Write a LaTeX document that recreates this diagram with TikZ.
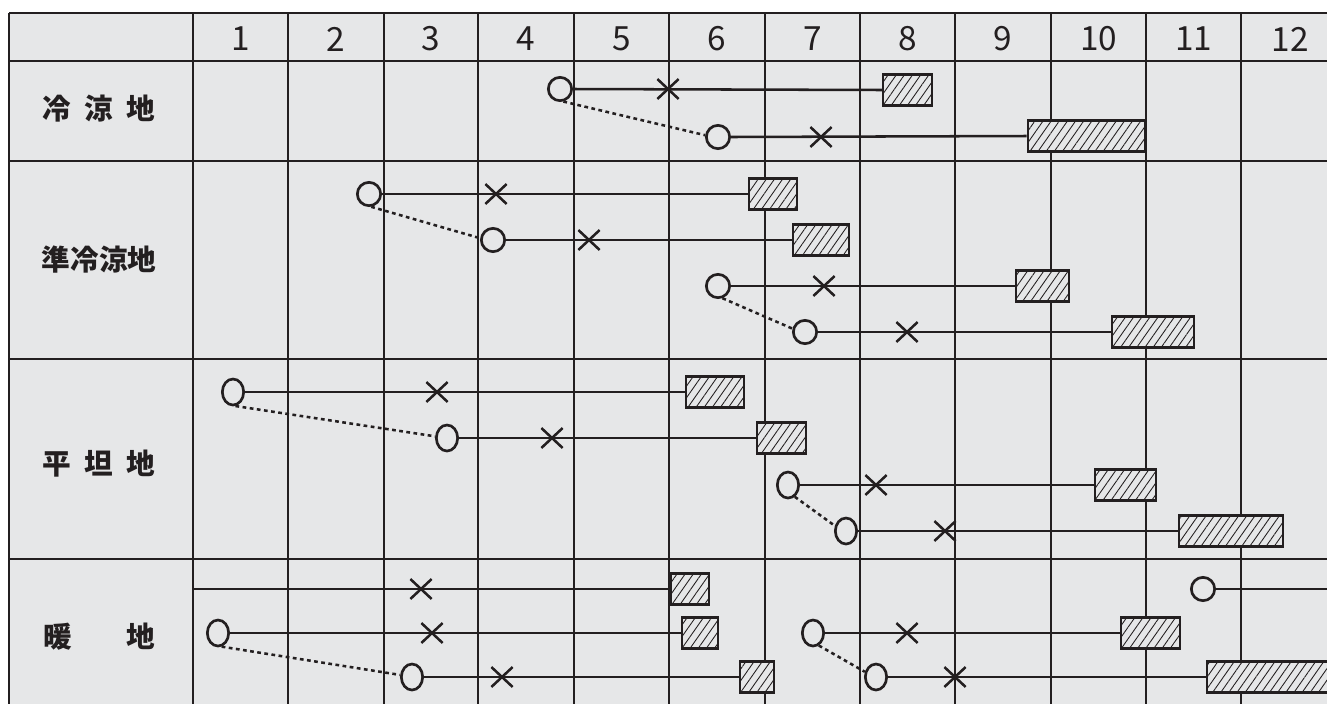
\documentclass[tikz,border=0pt]{standalone}
\usepackage{fontspec}
\newfontfamily\cjk{Noto Sans CJK JP}
\usetikzlibrary{shapes.geometric,shapes.misc,patterns.meta}
\definecolor{bg}{RGB}{230,231,232}
\definecolor{ink}{RGB}{35,31,32}
\begin{document}
\begin{tikzpicture}[x=0.75pt,y=-0.75pt,
  grid/.style={draw=ink,line width=2pt},
  row/.style={draw=ink,line width=1.9pt},
  dots/.style={draw=ink,line width=1.9pt,dash pattern=on 2.8pt off 2.6pt},
  rc/.style={circle,draw=ink,fill=bg,line width=2pt,minimum size=17.5pt,inner sep=0pt},
  ec/.style={ellipse,draw=ink,fill=bg,line width=2pt,minimum width=16pt,minimum height=19.5pt,inner sep=0pt},
  xm/.style={cross out,draw=ink,line width=1.9pt,minimum width=14pt,minimum height=13pt,inner sep=0pt},
  bx/.style={rectangle,draw=ink,line width=2pt,minimum height=23pt,inner sep=0pt,
    minimum width=#1*0.75pt,preaction={fill=bg},
    pattern={Lines[angle=55,distance=5pt,line width=0.65pt]},pattern color=ink},
  hd/.style={font=\cjk\fontsize{25pt}{28pt}\selectfont,text=ink,inner sep=0pt},
  lab/.style={font=\cjk\bfseries\fontsize{21.5pt}{24pt}\selectfont,text=ink,inner sep=0pt}
]
\useasboundingbox (0,0) rectangle (1327,704);
% background and grid
\fill[bg] (9,13) rectangle (1327,704);
\foreach \v in {9,193,288,384,478,574,669,765,860,955,1051,1146,1241}
  \draw[grid] (\v,13) -- (\v,704);
\foreach \h in {13,61,161,359,559}
  \draw[grid] (9,\h) -- (1327,\h);
% header
\node[hd] (m1) at (240.5,39) {1};
\node[hd] (m2) at (336,39) {2};
\node[hd] (m3) at (431,39) {3};
\node[hd] (m4) at (526,39) {4};
\node[hd] (m5) at (621.5,39) {5};
\node[hd] (m6) at (717,39) {6};
\node[hd] (m7) at (812.5,39) {7};
\node[hd] (m8) at (907.5,39) {8};
\node[hd] (m9) at (1003,39) {9};
\node[hd] (m10) at (1098.5,39) {10};
\node[hd] (m11) at (1193.5,39) {11};
\node[hd] (m12) at (1290,39) {12};
% row labels
\node[lab] (r1) at (98.5,109) {冷\hspace{10pt}涼\hspace{10pt}地};
\node[lab] (r2) at (99,260) {準冷涼地};
\node[lab] (r3) at (98.5,464) {平\hspace{10pt}坦\hspace{10pt}地};
\node[lab] (r4) at (99,637) {暖\hspace{41pt}地};

% ---- row 1
\node[rc] (c11) at (560,89) {};
\node[xm] (x11) at (668,89) {};
\node[bx=49] (b11) at (907.5,90) {};
\node[rc] (c12) at (718,137) {};
\node[xm] (x12) at (821,137) {};
\node[bx=117] (b12) at (1086.5,136) {};
\draw[row] (c11.east) -- (b11.west);
\draw[row] (c12.east) -- (b12.west);
\draw[dots] (c11.-75) -- (c12.172);

% ---- row 2
\node[rc] (c21) at (369,194) {};
\node[xm] (x21) at (496,194) {};
\node[bx=48] (b21) at (773,194) {};
\node[rc] (c22) at (493,240) {};
\node[xm] (x22) at (589,240) {};
\node[bx=56] (b22) at (821,240) {};
\node[rc] (c23) at (718,286) {};
\node[xm] (x23) at (824,286) {};
\node[bx=53] (b23) at (1042.5,286) {};
\node[rc] (c24) at (805,332) {};
\node[xm] (x24) at (907,332) {};
\node[bx=82] (b24) at (1153,332) {};
\draw[row] (c21.east) -- (b21.west);
\draw[row] (c22.east) -- (b22.west);
\draw[row] (c23.east) -- (b23.west);
\draw[row] (c24.east) -- (b24.west);
\draw[dots] (c21.-80) -- (c22.172);
\draw[dots] (c23.-70) -- (c24.165);

% ---- row 3
\node[ec] (c31) at (233,392) {};
\node[xm] (x31) at (437,392) {};
\node[bx=58] (b31) at (715,392) {};
\node[ec] (c32) at (447,438) {};
\node[xm] (x32) at (552,438) {};
\node[bx=49] (b32) at (781.5,438) {};
\node[ec] (c33) at (788,485) {};
\node[xm] (x33) at (876,485) {};
\node[bx=61] (b33) at (1125.5,485) {};
\node[ec] (c34) at (846,531) {};
\node[xm] (x34) at (945,531) {};
\node[bx=104] (b34) at (1231,531) {};
\draw[row] (c31.east) -- (b31.west);
\draw[row] (c32.east) -- (b32.west);
\draw[row] (c33.east) -- (b33.west);
\draw[row] (c34.east) -- (b34.west);
\draw[dots] (c31.-80) -- (c32.172);
\draw[dots] (c33.-60) -- (c34.155);

% ---- row 4
\coordinate (s41) at (193,589);
\node[xm] (x41) at (421,589) {};
\node[bx=38] (b41) at (690,589) {};
\node[ec] (c42) at (218,633) {};
\node[xm] (x42) at (432,633) {};
\node[bx=36] (b42) at (700,633) {};
\node[ec] (c43) at (412,677) {};
\node[xm] (x43) at (502,677) {};
\node[bx=34] (b43) at (757,677) {};
\node[rc] (c44) at (1203,589) {};
\coordinate (e44) at (1327,589);
\node[ec] (c45) at (813,633) {};
\node[xm] (x45) at (907,633) {};
\node[bx=59] (b45) at (1150.5,633) {};
\node[ec] (c46) at (876,677) {};
\node[xm] (x46) at (955,677) {};
\node[bx=138] (b46) at (1276,677) {};
\draw[row] (s41) -- (b41.west);
\draw[row] (c42.east) -- (b42.west);
\draw[row] (c43.east) -- (b43.west);
\draw[row] (c44.east) -- (e44);
\draw[row] (c45.east) -- (b45.west);
\draw[row] (c46.east) -- (b46.west);
\draw[dots] (c42.-75) -- (c43.170);
\draw[dots] (c45.-65) -- (c46.155);
\end{tikzpicture}
\end{document}
